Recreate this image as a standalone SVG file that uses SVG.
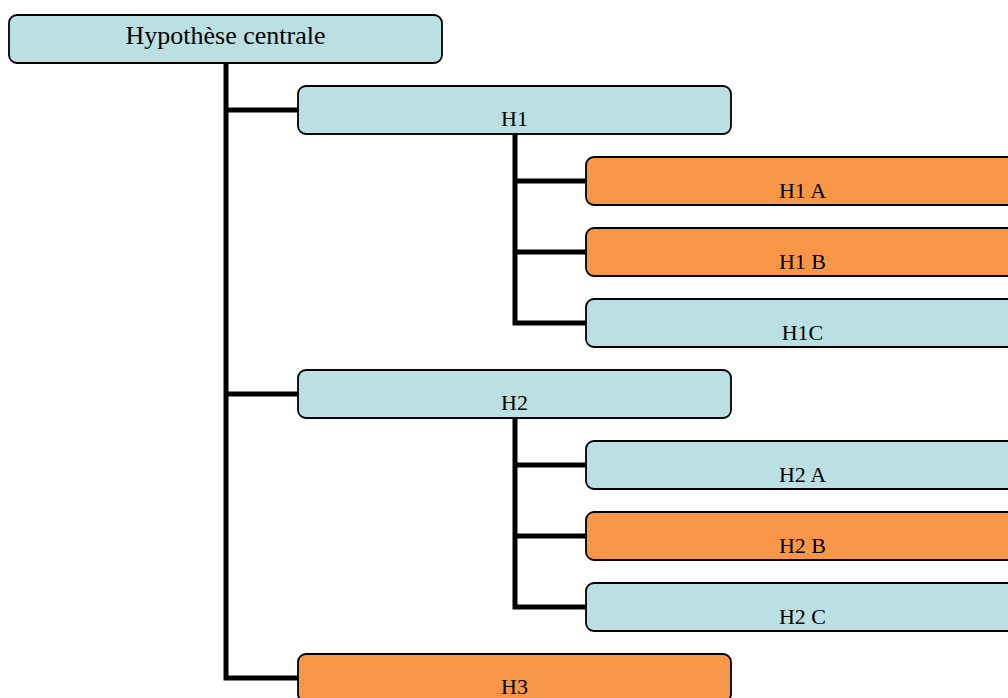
<svg xmlns="http://www.w3.org/2000/svg" width="1008" height="698" viewBox="0 0 1008 698">
<style>
.box{stroke:#000;stroke-width:1.8}
.blue{fill:#BBE0E3}
.orange{fill:#F79646}
.t{font-family:"Liberation Serif","Times New Roman",serif;font-size:22px;fill:#000;text-anchor:middle}
.root{font-size:26px}
.c{fill:none;stroke:#000;stroke-width:5}
</style>
<rect width="1008" height="698" fill="#fff"/>
<g id="connectors">
<path class="c" d="M226 63 V678 H298 M226 110 H298 M226 394 H298"/>
<path class="c" d="M515 134 V323 H586 M515 181 H586 M515 252 H586"/>
<path class="c" d="M515 418 V607 H586 M515 465 H586 M515 536 H586"/>
</g>
<g id="root"><rect class="box blue" x="9" y="15" width="433" height="48" rx="8"/><text class="t root" x="225.5" y="44">Hypothèse centrale</text></g>
<g id="h1"><rect class="box blue" x="298" y="86" width="433" height="48" rx="8"/><text class="t" x="514.5" y="126">H1</text></g>
<g id="h1a"><rect class="box orange" x="586" y="157" width="433" height="48" rx="8"/><text class="t" x="802.5" y="198">H1 A</text></g>
<g id="h1b"><rect class="box orange" x="586" y="228" width="433" height="48" rx="8"/><text class="t" x="802.5" y="269">H1 B</text></g>
<g id="h1c"><rect class="box blue" x="586" y="299" width="433" height="48" rx="8"/><text class="t" x="802.5" y="340">H1C</text></g>
<g id="h2"><rect class="box blue" x="298" y="370" width="433" height="48" rx="8"/><text class="t" x="514.5" y="410">H2</text></g>
<g id="h2a"><rect class="box blue" x="586" y="441" width="433" height="48" rx="8"/><text class="t" x="802.5" y="482">H2 A</text></g>
<g id="h2b"><rect class="box orange" x="586" y="512" width="433" height="48" rx="8"/><text class="t" x="802.5" y="553">H2 B</text></g>
<g id="h2c"><rect class="box blue" x="586" y="583" width="433" height="48" rx="8"/><text class="t" x="802.5" y="624">H2 C</text></g>
<g id="h3"><rect class="box orange" x="298" y="654" width="433" height="48" rx="8"/><text class="t" x="514.5" y="694">H3</text></g>
</svg>
